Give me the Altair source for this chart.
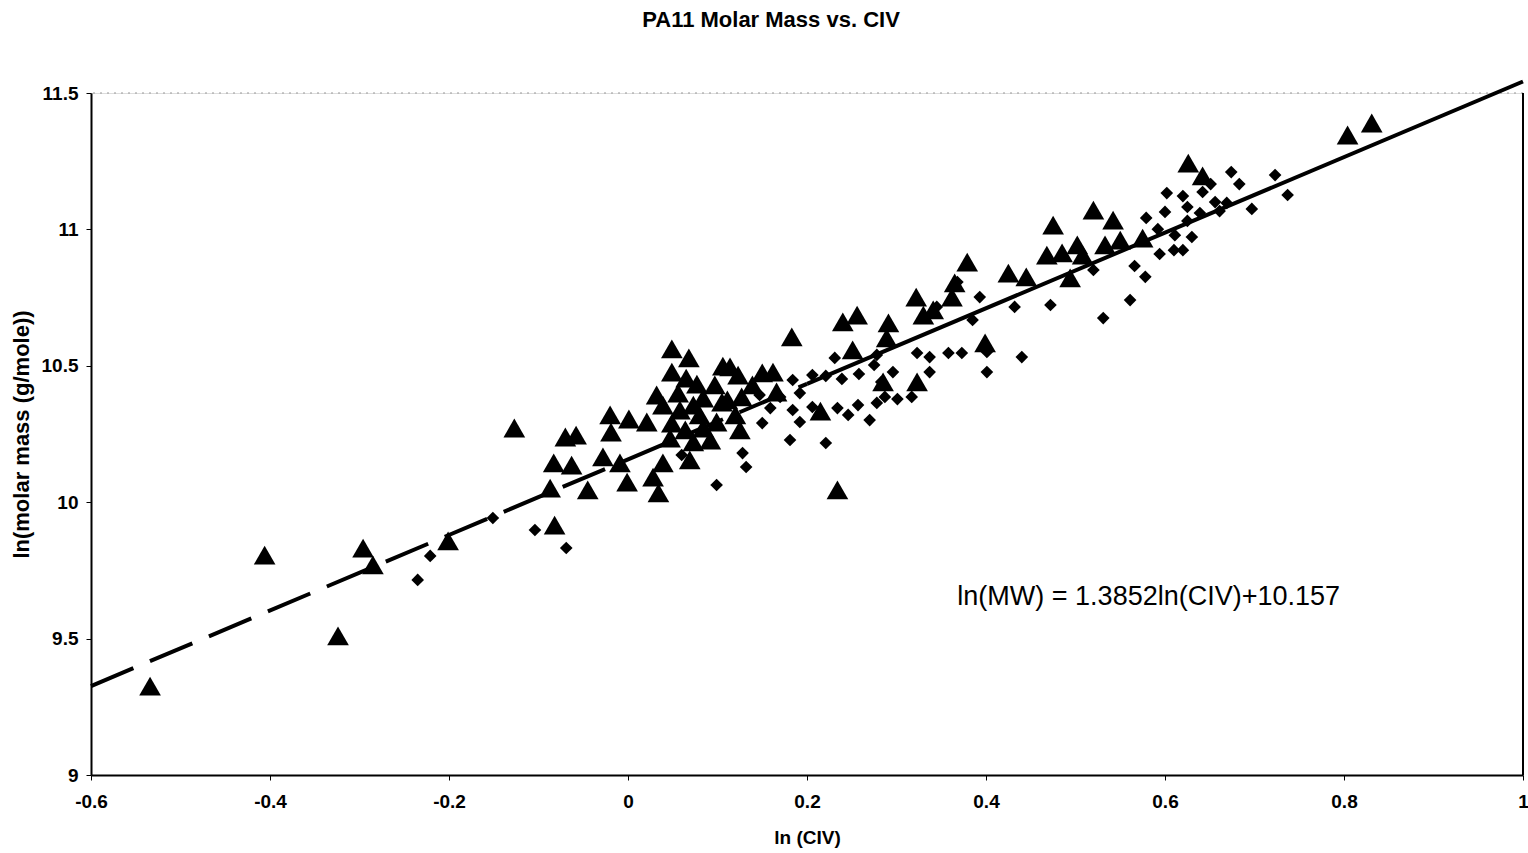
import altair as alt
import pandas as pd

# Triangles series (ln CIV, ln molar mass)
tri_x = [-0.534, -0.406, -0.324, -0.296, -0.285, -0.201, -0.127, -0.082, -0.087, -0.070,
         -0.058, -0.083, -0.063, -0.045, -0.028, -0.020, -0.019, -0.009, -0.001, 0.001,
         0.021, 0.028, 0.034, 0.039, 0.039, 0.049, 0.068, 0.049, 0.065, 0.077,
         0.056, 0.073, 0.049, 0.047, 0.073, 0.069, 0.084, 0.084, 0.099, 0.105,
         0.106, 0.114, 0.123, 0.111, 0.127, 0.125, 0.150, 0.162, 0.166, 0.183,
         0.215, 0.234, 0.240, 0.251, 0.256, 0.291, 0.289, 0.322, 0.330, 0.341,
         0.362, 0.365, 0.379, 0.399, 0.425, 0.445, 0.468, 0.475, 0.485, 0.494,
         0.502, 0.508, 0.520, 0.542, 0.533, 0.550, 0.575, 0.626, 0.804, 0.831,
         0.323, 0.285, 0.642, 0.058, 0.080, 0.092, 0.064, 0.032, 0.097, 0.139,
         0.120]
tri_y = [9.326, 9.806, 9.510, 9.832, 9.770, 9.858, 10.272, 9.916, 10.052, 10.239,
         10.246, 10.144, 10.136, 10.045, 10.166, 10.320, 10.257, 10.144, 10.074, 10.305,
         10.294, 10.092, 10.034, 10.144, 10.356, 10.562, 10.529, 10.477, 10.455, 10.433,
         10.400, 10.356, 10.290, 10.235, 10.221, 10.155, 10.382, 10.272, 10.294, 10.367,
         10.499, 10.496, 10.466, 10.375, 10.386, 10.265, 10.474, 10.477, 10.404, 10.606,
         10.334, 10.045, 10.661, 10.558, 10.686, 10.657, 10.602, 10.752, 10.686, 10.705,
         10.752, 10.804, 10.880, 10.584, 10.840, 10.826, 10.906, 11.016, 10.914, 10.822,
         10.943, 10.906, 11.071, 11.034, 10.943, 10.961, 10.968, 11.243, 11.346, 11.390,
         10.441, 10.441, 11.196, 10.338, 10.320, 10.228, 10.265, 10.393, 10.430, 10.430,
         10.320]

# Diamonds series
dia_x = [-0.235, -0.221, -0.151, -0.104, -0.069, 0.099, 0.060, 0.128, 0.132, 0.147,
         0.150, 0.159, 0.170, 0.181, 0.184, 0.184, 0.192, 0.192, 0.206, 0.206,
         0.221, 0.221, 0.231, 0.234, 0.239, 0.246, 0.257, 0.258, 0.270, 0.275,
         0.278, 0.283, 0.296, 0.278, 0.287, 0.301, 0.317, 0.323, 0.337, 0.337,
         0.358, 0.373, 0.345, 0.368, 0.385, 0.393, 0.401, 0.401, 0.432, 0.440,
         0.472, 0.520, 0.531, 0.561, 0.566, 0.578, 0.579, 0.592, 0.594, 0.600,
         0.602, 0.610, 0.611, 0.620, 0.625, 0.625, 0.630, 0.639, 0.642, 0.651,
         0.656, 0.661, 0.669, 0.674, 0.683, 0.697, 0.723, 0.737, 0.620]
dia_y = [9.715, 9.803, 9.942, 9.898, 9.832, 10.063, 10.173, 10.180, 10.129, 10.393,
         10.290, 10.345, 10.386, 10.228, 10.448, 10.338, 10.294, 10.400, 10.466, 10.349,
         10.463, 10.217, 10.529, 10.345, 10.452, 10.320, 10.356, 10.470, 10.301, 10.503,
         10.540, 10.441, 10.477, 10.364, 10.386, 10.378, 10.386, 10.547, 10.532, 10.477,
         10.547, 10.547, 10.716, 10.807, 10.668, 10.752, 10.477, 10.551, 10.716, 10.532,
         10.723, 10.851, 10.675, 10.741, 10.866, 10.826, 11.042, 11.001, 10.910, 11.064,
         11.133, 10.924, 10.979, 11.122, 11.082, 11.031, 10.972, 11.060, 11.137, 11.166,
         11.100, 11.067, 11.097, 11.210, 11.166, 11.075, 11.199, 11.126, 10.924]

x_ticks = [-0.6, -0.4, -0.2, 0, 0.2, 0.4, 0.6, 0.8, 1.0]
y_ticks = [9, 9.5, 10, 10.5, 11, 11.5]

slope = 1.3852
intercept = 10.157
dash_x = [-0.6, 0.2]
solid_x = [0.2, 1.0]
equation = "ln(MW) = 1.3852ln(CIV)+10.157"

FONT = "Liberation Sans"
LABEL_EXPR = "replace(format(datum.value, '~g'), '\u2212', '-')"

tri = pd.DataFrame({"x": tri_x, "y": tri_y})
dia = pd.DataFrame({"x": dia_x, "y": dia_y})
dash_df = pd.DataFrame({"x": dash_x, "y": [slope * v + intercept for v in dash_x]})
solid_df = pd.DataFrame({"x": solid_x, "y": [slope * v + intercept for v in solid_x]})

xscale = alt.Scale(domain=[-0.6, 1.0], nice=False, zero=False)
yscale = alt.Scale(domain=[9.0, 11.5], nice=False, zero=False)

xax = alt.Axis(values=x_ticks, title="ln (CIV)", labelExpr=LABEL_EXPR,
               grid=False, domainColor="black", domainWidth=2,
               tickColor="black", tickSize=5, labelFont=FONT, labelFontSize=19,
               labelFontWeight="bold", labelColor="black", labelPadding=12,
               labelFlush=False,
               titleFont=FONT, titleFontSize=19, titleFontWeight="bold",
               titleColor="black", titlePadding=17)
yax = alt.Axis(values=y_ticks, title="ln(molar mass (g/mole))", labelExpr=LABEL_EXPR,
               grid=False, domainColor="black", domainWidth=2,
               tickColor="black", tickSize=5, labelFont=FONT, labelFontSize=19,
               labelFontWeight="bold", labelColor="black", labelPadding=8,
               labelFlush=False,
               titleFont=FONT, titleFontSize=22, titleFontWeight="bold",
               titleColor="black", titlePadding=8)

base_x = alt.X("x:Q", scale=xscale, axis=xax)
base_y = alt.Y("y:Q", scale=yscale, axis=yax)

tri_layer = alt.Chart(tri).mark_point(shape="triangle-up", filled=True, color="black",
                                      size=470, opacity=1).encode(x=base_x, y=base_y)
dia_layer = alt.Chart(dia).mark_point(shape="diamond", filled=True, color="black",
                                      size=160, opacity=1).encode(x="x:Q", y="y:Q")
dash_layer = alt.Chart(dash_df).mark_line(color="black", strokeWidth=4,
                                          strokeDash=[46, 18]).encode(x="x:Q", y="y:Q")
solid_layer = alt.Chart(solid_df).mark_line(color="black", strokeWidth=4).encode(x="x:Q", y="y:Q")

top_rule = alt.Chart(pd.DataFrame({"y": [11.5]})).mark_rule(
    color="#999999", strokeWidth=1, strokeDash=[2, 5]).encode(y="y:Q")
right_rule = alt.Chart(pd.DataFrame({"x": [1.0]})).mark_rule(
    color="black", strokeWidth=2).encode(x="x:Q")

eq_layer = alt.Chart(pd.DataFrame({"x": [0.368], "y": [9.652], "t": [equation]})).mark_text(
    align="left", baseline="middle", font=FONT, fontSize=27, color="black").encode(
    x="x:Q", y="y:Q", text="t:N")

chart = alt.layer(top_rule, right_rule, dash_layer, solid_layer, dia_layer, tri_layer, eq_layer).properties(
    width=1432, height=682,
    title=alt.TitleParams("PA11 Molar Mass vs. CIV", font=FONT, fontSize=22, fontWeight="bold",
                          color="black", anchor="middle", offset=41, dx=-36),
    padding={"left": 91, "top": 93, "right": 5, "bottom": 78},
    autosize=alt.AutoSizeParams(type="none"),
).configure_view(stroke=None).configure(background="white")

chart.save("out.html", embed_options={"renderer": "svg", "actions": False})
